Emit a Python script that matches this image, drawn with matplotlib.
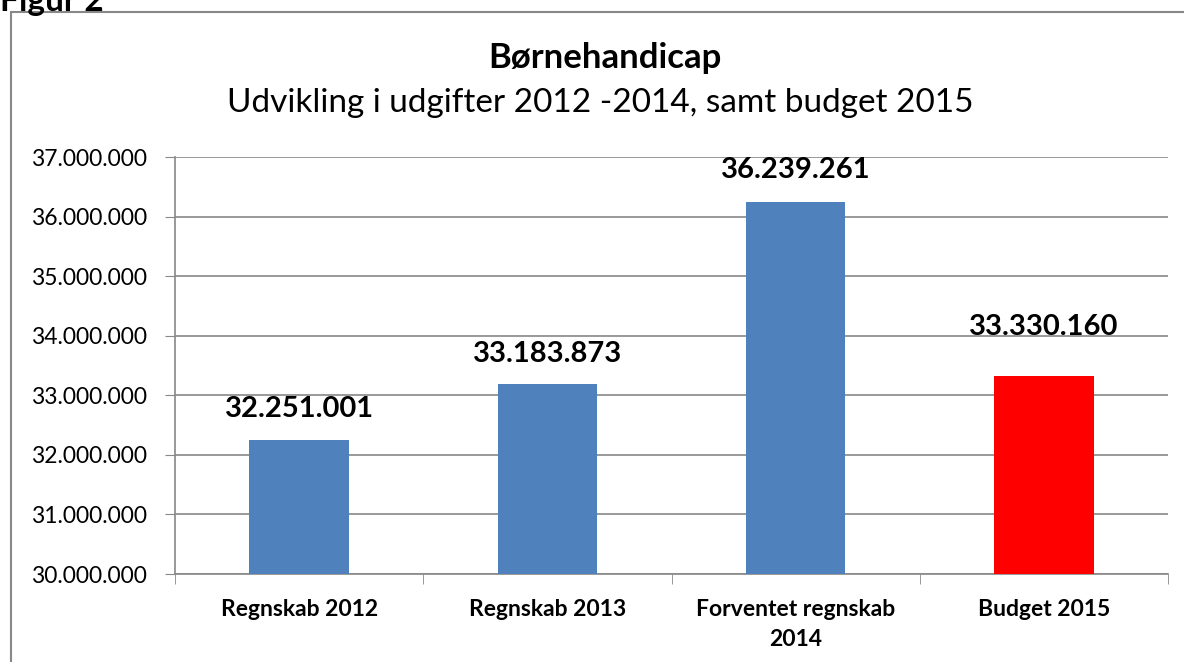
import numpy as np
import matplotlib

matplotlib.use("Agg")
import matplotlib.pyplot as plt
from matplotlib.patches import Rectangle
from matplotlib.ticker import FuncFormatter

categories = ["Regnskab 2012", "Regnskab 2013", "Forventet regnskab\n2014", "Budget 2015"]
values = [32251001, 33183873, 36239261, 33330160]
value_labels = ["32.251.001", "33.183.873", "36.239.261", "33.330.160"]
bar_colors = ["#4f81bd", "#4f81bd", "#4f81bd", "#ff0000"]
label_offsets = [22, 22, 23, 35]  # points above bar top

plt.rcParams["font.family"] = ["Lato", "DejaVu Sans"]


def dot_thousands(v, pos=None):
    return f"{int(round(v)):,}".replace(",", ".")


fig = plt.figure(figsize=(11.84, 6.62), dpi=100)
ax = fig.add_axes([175 / 1184, 1 - 574 / 662, (1168 - 175) / 1184, (574 - 157) / 662])

x = np.arange(len(categories))
ax.bar(x, values, width=0.4, color=bar_colors, zorder=3)
for xi, v, lab, off in zip(x, values, value_labels, label_offsets):
    ax.annotate(lab, (xi, v), xytext=(0, off), textcoords="offset points",
                ha="center", va="center", fontsize=21, fontweight="bold", zorder=4)

ax.set_xlim(-0.5, len(categories) - 0.5)
ax.set_ylim(30000000, 37000000)
ax.set_yticks(np.arange(30000000, 37000001, 1000000))
ax.yaxis.set_major_formatter(FuncFormatter(dot_thousands))
ax.set_xticks(x)
ax.set_xticklabels(categories, fontsize=16.5, fontweight="bold", linespacing=1.5)
ax.set_xticks(np.arange(-0.5, len(categories)), minor=True)
ax.tick_params(axis="x", which="major", length=0, pad=18)
ax.tick_params(axis="x", which="minor", length=7, color="#888888", direction="out")
ax.tick_params(axis="y", length=7, color="#888888", labelsize=16.5, pad=13)
ax.grid(axis="y", color="#888888", linewidth=1.2, zorder=0)
for s in ["top", "right"]:
    ax.spines[s].set_visible(False)
for s in ["left", "bottom"]:
    ax.spines[s].set_color("#888888")
    ax.spines[s].set_linewidth(1.2)

fig.text(605 / 1184, 1 - 58 / 662, "Børnehandicap", ha="center", va="center",
         fontsize=25, fontweight="bold")
fig.text(600 / 1184, 1 - 103 / 662, "Udvikling i udgifter 2012 -2014, samt budget 2015",
         ha="center", va="center", fontsize=24)
fig.text(0, 1 - 2 / 662, "Figur 2", ha="left", va="center", fontsize=24, fontweight="bold")

border = Rectangle((11 / 1184, -0.1), 1.2, 1 - 12 / 662 + 0.1, transform=fig.transFigure,
                   fill=False, edgecolor="#888888", linewidth=1.5)
fig.patches.append(border)

fig.savefig("out.png", dpi=100)
